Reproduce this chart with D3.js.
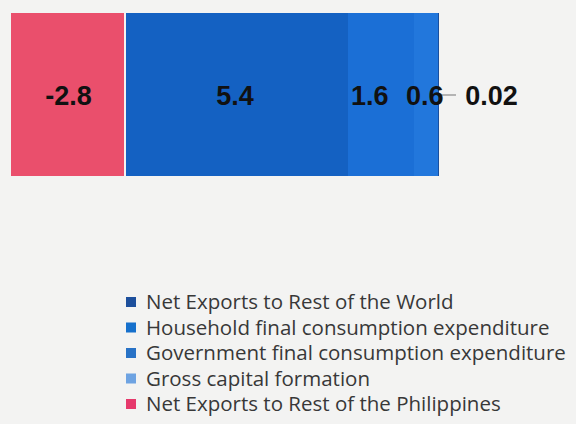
<!DOCTYPE html>
<html>
<head>
<meta charset="utf-8">
<script src="https://cdn.jsdelivr.net/npm/d3@7"></script>
<style>
  body { margin: 0; background: #f3f3f2; }
  svg { display: block; }
</style>
</head>
<body>
<svg id="chart" width="576" height="424"></svg>
<script>
// series in stacking order (negative first, then positives left to right)
const series = [
  "Net Exports to Rest of the Philippines",
  "Household final consumption expenditure",
  "Government final consumption expenditure",
  "Gross capital formation",
  "Net Exports to Rest of the World"
];
const values = [-2.8, 5.4, 1.6, 0.6, 0.02];
const valueLabels = ["-2.8", "5.4", "1.6", "0.6", "0.02"];

// legend order as printed
const legendOrder = [
  "Net Exports to Rest of the World",
  "Household final consumption expenditure",
  "Government final consumption expenditure",
  "Gross capital formation",
  "Net Exports to Rest of the Philippines"
];

const barColor = d3.scaleOrdinal()
  .domain(series)
  .range(["#ea4f6c", "#1461c2", "#1b6fd6", "#2277dc", "#1a4f9e"]);
const swatchColor = d3.scaleOrdinal()
  .domain(series)
  .range(["#e6396c", "#1670cc", "#2872c6", "#6ea3e2", "#1d4f9c"]);

const svg = d3.select("#chart");

// stack: negatives go left of zero, positives accumulate to the right
let pos = 0, neg = 0;
const segs = values.map((v, i) => {
  let x0, x1;
  if (v < 0) { x0 = neg + v; x1 = neg; neg += v; }
  else { x0 = pos; x1 = pos + v; pos += v; }
  return { name: series[i], value: v, label: valueLabels[i], x0, x1 };
});

const x = d3.scaleLinear()
  .domain([d3.min(segs, d => d.x0), d3.max(segs, d => d.x1)])
  .range([11, 439]);

const barTop = 13, barH = 163;

svg.append("g").selectAll("rect")
  .data(segs)
  .join("rect")
  .attr("x", d => Math.round(x(d.x0)))
  .attr("width", d => Math.max(1, Math.round(x(d.x1)) - Math.round(x(d.x0)) - (d.value < 0 ? 2 : 0)))
  .attr("y", barTop)
  .attr("height", barH)
  .attr("shape-rendering", "crispEdges")
  .attr("fill", d => barColor(d.name));

// data labels, nudged like the original
const labelDx = [0, -2, -11, -1, 53];
const labelY = 105;

// leader line for the tiny last slice
const last = segs[segs.length - 1];
svg.append("line")
  .attr("x1", x(last.x1) + 2)
  .attr("x2", x(last.x1) + 17)
  .attr("y1", 95).attr("y2", 95)
  .attr("stroke", "#8a8a8a")
  .attr("stroke-width", 1.2);

svg.append("g").selectAll("text")
  .data(segs)
  .join("text")
  .attr("x", (d, i) => (x(d.x0) + x(d.x1)) / 2 + labelDx[i])
  .attr("y", labelY)
  .attr("text-anchor", "middle")
  .style("font-family", "'Liberation Sans', Arial, sans-serif")
  .style("font-weight", "bold")
  .style("font-size", "27px")
  .attr("fill", "#111")
  .text(d => d.label);

// legend
const legend = svg.append("g").attr("transform", "translate(126,0)");
const rowY = d3.scalePoint().domain(legendOrder).range([302, 404]);

const items = legend.selectAll("g")
  .data(legendOrder)
  .join("g")
  .attr("transform", d => `translate(0,${rowY(d)})`);

items.append("rect")
  .attr("x", 0).attr("y", -5)
  .attr("width", 10).attr("height", 10)
  .attr("fill", d => swatchColor(d));

items.append("text")
  .attr("x", 20)
  .attr("y", 7)
  .style("font-family", "'Open Sans', sans-serif")
  .style("font-size", "20.5px")
  .attr("fill", "#383838")
  .text(d => d);
</script>
</body>
</html>
